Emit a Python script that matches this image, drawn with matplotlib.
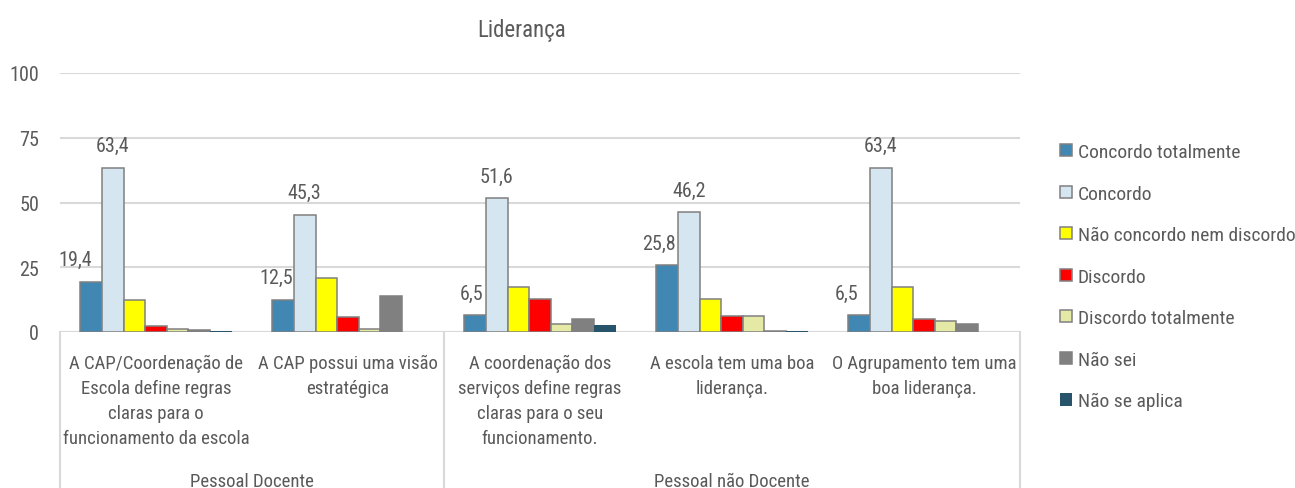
import matplotlib
matplotlib.use("Agg")
import matplotlib.pyplot as plt
import numpy as np
from matplotlib import font_manager
from matplotlib.patches import Patch

# Survey answers (%), one list per answer option, one value per question
questions = [
    "A CAP/Coordenação de\nEscola define regras\nclaras para o\nfuncionamento da escola",
    "A CAP possui uma visão\nestratégica",
    "A coordenação dos\nserviços define regras\nclaras para o seu\nfuncionamento.",
    "A escola tem uma boa\nliderança.",
    "O Agrupamento tem uma\nboa liderança.",
]
groups = ["Pessoal Docente", "Pessoal não Docente"]
group_sizes = [2, 3]

series_names = [
    "Concordo totalmente",
    "Concordo",
    "Não concordo nem discordo",
    "Discordo",
    "Discordo totalmente",
    "Não sei",
    "Não se aplica",
]
concordo_totalmente = [19.4, 12.5, 6.5, 25.8, 6.5]
concordo = [63.4, 45.3, 51.6, 46.2, 63.4]
nem_nem = [12.5, 21.0, 17.2, 12.9, 17.2]
discordo = [2.5, 5.8, 12.9, 6.2, 5.0]
discordo_totalmente = [1.0, 1.0, 3.0, 6.2, 4.3]
nao_sei = [0.7, 14.0, 5.1, 0.5, 2.9]
nao_se_aplica = [0.4, 0.0, 2.8, 0.5, 0.0]

colors = ["#4087B4", "#D6E6F0", "#FFFF00", "#FF0000", "#E4EAA5", "#808080", "#27536B"]
edges = ["#808080"] * 6 + ["none"]

# horizontal nudges (pixels) of the value labels on the first series
label_dx = [-16, -7, -3.5, -8.5, -13]

# a narrow sans for all text
names = {f.name for f in font_manager.fontManager.ttflist}
family = "DejaVu Sans"
for cand in ["Liberation Sans Narrow", "Arial Narrow", "Nimbus Sans Narrow",
             "Roboto Condensed", "Archivo Narrow", "Barlow Semi Condensed"]:
    if cand in names:
        family = cand
        break
plt.rcParams["font.family"] = [family, "DejaVu Sans"]
text_color = "#5A5A5A"
grid_color = "#D9D9D9"

W, H = 1295, 489
fig = plt.figure(figsize=(W / 100, H / 100), dpi=100)
ax = fig.add_axes([60 / W, 1 - 333 / H, 960 / W, 259 / H])

data = [concordo_totalmente, concordo, nem_nem, discordo,
        discordo_totalmente, nao_sei, nao_se_aplica]
x = np.arange(len(questions))
bw = 0.1125
bars = []
for i, vals in enumerate(data):
    b = ax.bar(x + (i - 3) * bw, vals, bw, color=colors[i],
               edgecolor=edges[i], linewidth=1.1, zorder=3)
    bars.append(b)

# value labels for the first two series
for j, rect in enumerate(bars[0]):
    v = concordo_totalmente[j]
    ax.annotate(f"{v:.1f}".replace(".", ","),
                (rect.get_x() + rect.get_width() / 2, v),
                xytext=(label_dx[j] * 0.72, 16), textcoords="offset points",
                ha="center", va="center", fontsize=14.5, color=text_color)
for j, rect in enumerate(bars[1]):
    v = concordo[j]
    ax.annotate(f"{v:.1f}".replace(".", ","),
                (rect.get_x() + rect.get_width() / 2, v),
                xytext=(0, 16), textcoords="offset points",
                ha="center", va="center", fontsize=14.5, color=text_color)

ax.set_xlim(-0.5, len(questions) - 0.5)
ax.set_ylim(0, 100)
ax.set_yticks([0, 25, 50, 75, 100])
ax.tick_params(axis="y", length=0, pad=15, labelsize=14.5, labelcolor=text_color)
ax.set_xticks([])
ax.grid(axis="y", color=grid_color, linewidth=1.5, zorder=0)
for s in ax.spines.values():
    s.set_visible(False)
ax.axhline(0, color=grid_color, linewidth=1.5, zorder=2)

# category labels, group labels and separators below the axis
trans = ax.get_xaxis_transform()
for j, q in enumerate(questions):
    ax.text(x[j], -0.085, q, transform=trans, ha="center", va="top",
            fontsize=13.5, color=text_color, linespacing=1.5)
edges_x = [-0.5]
start = -0.5
for g, n in zip(groups, group_sizes):
    end = start + n
    ax.text((start + end) / 2, -0.575, g, transform=trans, ha="center",
            va="center", fontsize=13.5, color=text_color)
    edges_x.append(end)
    start = end
for ex in edges_x:
    ax.plot([ex, ex], [0, -0.7], transform=trans, color=grid_color,
            linewidth=1.5, clip_on=False)

fig.text(522 / W, 1 - 30 / H, "Liderança", ha="center", va="center",
         fontsize=16.5, color=text_color)

handles = [Patch(facecolor=c, edgecolor=e, linewidth=1.1)
           for c, e in zip(colors, edges)]
fig.legend(handles, series_names, loc="upper left",
           bbox_to_anchor=(1060 / W, 1 - 144 / H), frameon=False,
           fontsize=14, labelcolor=text_color, handlelength=0.6,
           handleheight=0.6, handletextpad=0.3, labelspacing=1.21,
           borderaxespad=0, borderpad=0)

fig.savefig("out.png", dpi=100)
